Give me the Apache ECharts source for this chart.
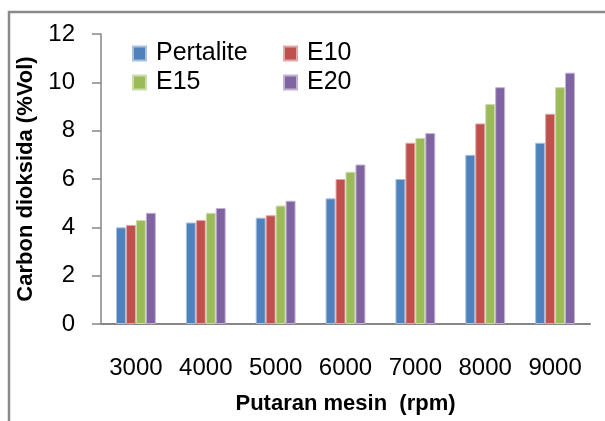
<!DOCTYPE html>
<html>
<head>
<meta charset="utf-8">
<script src="https://cdn.jsdelivr.net/npm/echarts@6/dist/echarts.min.js"></script>
<style>
  html, body { margin: 0; padding: 0; background: #fff; }
  #main { width: 605px; height: 421px; }
</style>
</head>
<body>
<div id="main"></div>
<script>
// data
const categories = ['3000', '4000', '5000', '6000', '7000', '8000', '9000'];
const seriesNames = ['Pertalite', 'E10', 'E15', 'E20'];
const pertalite = [4.0, 4.2, 4.4, 5.2, 6.0, 7.0, 7.5];
const e10 = [4.1, 4.3, 4.5, 6.0, 7.5, 8.3, 8.7];
const e15 = [4.3, 4.6, 4.9, 6.3, 7.7, 9.1, 9.8];
const e20 = [4.6, 4.8, 5.1, 6.6, 7.9, 9.8, 10.4];

const colors = ['#4F81BD', '#C0504D', '#9BBB59', '#8064A2'];
const edges = ['#a9c1de', '#e0a9a7', '#cddcad', '#c0b2d1'];
const values = [pertalite, e10, e15, e20];

document.addEventListener('DOMContentLoaded', function () {
    var chart = echarts.init(document.getElementById('main'));
    var fontFamily = '"Liberation Sans", Arial, sans-serif';

    // legend in two columns, like the Excel original
    var legendBase = {
        orient: 'vertical',
        icon: 'rect',
        padding: 0,
        itemWidth: 13,
        itemHeight: 14,
        itemGap: 4,
        selectedMode: false,
        textStyle: { fontFamily: fontFamily, fontSize: 25, color: '#000', lineHeight: 25, padding: [0, 0, 0, 5] }
    };

    var option = {
        animation: false,
        color: colors,
        textStyle: { fontFamily: fontFamily },
        graphic: [{
            type: 'rect',
            shape: { x: 9, y: 12, width: 700, height: 500 },
            style: { fill: 'none', stroke: '#8a8a8a', lineWidth: 2.5 },
            silent: true
        }],
        legend: [
            Object.assign({}, legendBase, { left: 132, top: 41, data: [seriesNames[0], seriesNames[2]] }),
            Object.assign({}, legendBase, { left: 283, top: 41, data: [seriesNames[1], seriesNames[3]] })
        ],
        grid: { left: 101, right: 15, top: 34, bottom: 97 },
        xAxis: {
            type: 'category',
            data: categories,
            name: 'Putaran mesin  (rpm)',
            nameLocation: 'middle',
            nameGap: 69,
            nameTextStyle: { fontFamily: fontFamily, fontSize: 22, fontWeight: 'bold', color: '#000' },
            axisLine: { lineStyle: { color: '#868686', width: 2 } },
            axisTick: { show: false },
            axisLabel: { margin: 32, fontSize: 24, color: '#000', fontFamily: fontFamily }
        },
        yAxis: {
            type: 'value',
            min: 0,
            max: 12,
            interval: 2,
            name: 'Carbon dioksida (%Vol)',
            nameLocation: 'middle',
            nameGap: 61,
            nameTextStyle: { fontFamily: fontFamily, fontSize: 22, fontWeight: 'bold', color: '#000' },
            axisLine: { show: true, lineStyle: { color: '#868686', width: 1.5 } },
            axisTick: { show: true, length: 9, lineStyle: { color: '#868686', width: 1.5 } },
            axisLabel: { margin: 26, fontSize: 24, color: '#000', fontFamily: fontFamily },
            splitLine: { show: false }
        },
        series: seriesNames.map(function (name, i) {
            return {
                name: name,
                type: 'bar',
                data: values[i],
                barGap: '0%',
                barCategoryGap: '43%',
                itemStyle: { color: colors[i], borderColor: edges[i], borderWidth: 1 }
            };
        })
    };

    chart.setOption(option);
});
</script>
</body>
</html>
